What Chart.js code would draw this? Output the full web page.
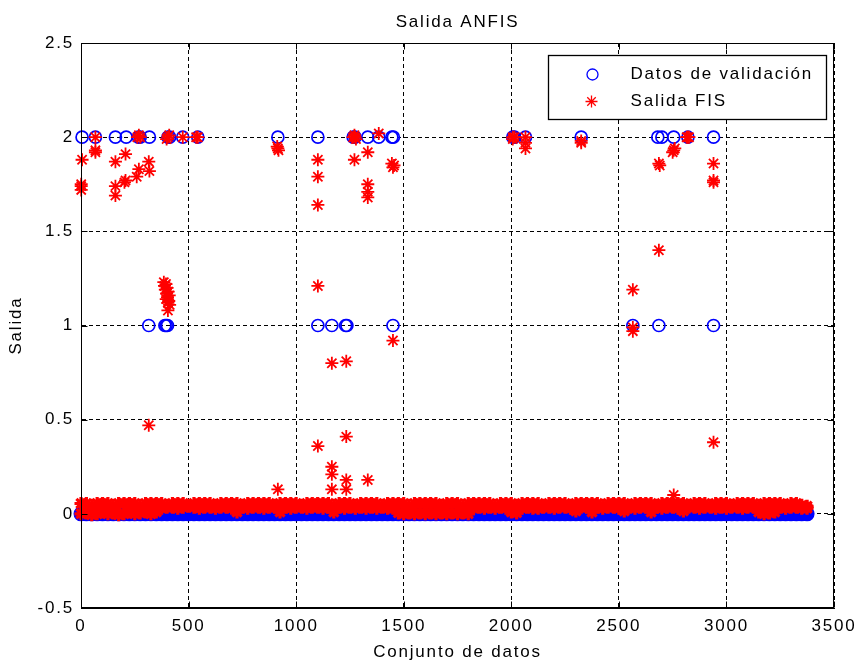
<!DOCTYPE html>
<html>
<head>
<meta charset="utf-8">
<title>Salida ANFIS</title>
<script src="https://cdn.jsdelivr.net/npm/chart.js@4.4.1/dist/chart.umd.min.js"></script>
<style>
  html, body { margin: 0; padding: 0; background: #fff; }
  canvas { display: block; }
</style>
</head>
<body>
<canvas id="chart" width="859" height="663"></canvas>
<script>
// Texts
const titleText = 'Salida ANFIS';
const xTitle = 'Conjunto de datos';
const yTitle = 'Salida';
const legendLabels = ['Datos de validación', 'Salida FIS'];

// Tick values
const xTickValues = [0, 500, 1000, 1500, 2000, 2500, 3000, 3500];
const yTickValues = [-0.5, 0, 0.5, 1, 1.5, 2, 2.5];

// Validation data away from zero (sample index / value)
const valX = [5, 67, 160, 210, 267, 275, 318, 404, 412, 473, 543, 915, 1101, 1265, 1274, 1333, 1384, 1445, 1452,
  2007, 2015, 2066, 2325, 2681, 2700, 2755, 2821, 2940,
  315, 390, 396, 402, 1101, 1166, 1230, 1236, 1450, 2565, 2686, 2940];
const valY = [2, 2, 2, 2, 2, 2, 2, 2, 2, 2, 2, 2, 2, 2, 2, 2, 2, 2, 2,
  2, 2, 2, 2, 2, 2, 2, 2, 2,
  1, 1, 1, 1, 1, 1, 1, 1, 1, 1, 1, 1];

// Dense band of samples whose target is zero
const bandX = [
  0, 25, 50, 75, 100, 125, 150, 175, 200, 225, 250, 275, 300, 325, 350, 375, 400,
  425, 450, 475, 500, 525, 550, 575, 600, 625, 650, 675, 700, 725, 750, 775, 800, 825,
  850, 875, 900, 925, 950, 975, 1000, 1025, 1050, 1075, 1100, 1125, 1150, 1175, 1200, 1225, 1250,
  1275, 1300, 1325, 1350, 1375, 1400, 1425, 1450, 1475, 1500, 1525, 1550, 1575, 1600, 1625, 1650, 1675,
  1700, 1725, 1750, 1775, 1800, 1825, 1850, 1875, 1900, 1925, 1950, 1975, 2000, 2025, 2050, 2075, 2100,
  2125, 2150, 2175, 2200, 2225, 2250, 2275, 2300, 2325, 2350, 2375, 2400, 2425, 2450, 2475, 2500, 2525,
  2550, 2575, 2600, 2625, 2650, 2675, 2700, 2725, 2750, 2775, 2800, 2825, 2850, 2875, 2900, 2925, 2950,
  2975, 3000, 3025, 3050, 3075, 3100, 3125, 3150, 3175, 3200, 3225, 3250, 3275, 3300, 3325, 3350, 3375
];
const valBandLevel = 0;

// FIS output inside the zero band (upper and lower edge of the red strip)
const fisTop = [
  0.055, 0.055, 0.045, 0.055, 0.055, 0.055, 0.045, 0.055, 0.055, 0.055, 0.055, 0.045, 0.055, 0.055, 0.055, 0.055, 0.045,
  0.055, 0.055, 0.055, 0.045, 0.055, 0.055, 0.055, 0.055, 0.045, 0.055, 0.055, 0.055, 0.055, 0.045, 0.055, 0.055, 0.055,
  0.055, 0.055, 0.045, 0.055, 0.055, 0.055, 0.055, 0.045, 0.055, 0.055, 0.055, 0.055, 0.055, 0.045, 0.055, 0.055, 0.055,
  0.045, 0.055, 0.055, 0.055, 0.055, 0.045, 0.055, 0.055, 0.055, 0.055, 0.045, 0.055, 0.055, 0.055, 0.055, 0.055, 0.045,
  0.055, 0.055, 0.055, 0.045, 0.055, 0.055, 0.055, 0.055, 0.055, 0.045, 0.055, 0.055, 0.055, 0.045, 0.055, 0.055, 0.055,
  0.055, 0.045, 0.055, 0.055, 0.055, 0.055, 0.045, 0.055, 0.055, 0.055, 0.055, 0.055, 0.045, 0.055, 0.055, 0.055, 0.055,
  0.045, 0.055, 0.055, 0.055, 0.055, 0.045, 0.055, 0.055, 0.055, 0.055, 0.055, 0.045, 0.055, 0.055, 0.055, 0.045, 0.055,
  0.055, 0.055, 0.045, 0.055, 0.055, 0.055, 0.055, 0.045, 0.055, 0.055, 0.055, 0.055, 0.045, 0.055, 0.055, 0.045, 0.04
];
const fisLow = [
  0.0, 0.005, -0.005, 0.0, 0.01, 0.0, 0.005, -0.005, 0.0, 0.01, 0.0, 0.005, 0.01, 0.0, 0.01, 0.03, 0.035,
  0.035, 0.03, 0.035, 0.04, 0.035, 0.03, 0.035, 0.035, 0.03, 0.035, 0.035, 0.03, 0.01, 0.035, 0.03, 0.035, 0.035,
  0.03, 0.035, 0.035, 0.01, 0.035, 0.03, 0.035, 0.035, 0.03, 0.035, 0.035, 0.03, 0.035, 0.01, 0.035, 0.03, 0.035,
  0.03, 0.035, 0.03, 0.035, 0.03, 0.035, 0.03, 0.03, 0.005, 0.0, 0.005, 0.0, 0.005, 0.0, 0.005, 0.0, 0.005,
  0.0, 0.005, 0.0, 0.005, 0.0, 0.03, 0.035, 0.03, 0.035, 0.03, 0.035, 0.03, 0.01, 0.005, 0.03, 0.035, 0.03,
  0.03, 0.035, 0.035, 0.03, 0.035, 0.035, 0.03, 0.015, 0.035, 0.035, 0.01, 0.035, 0.03, 0.035, 0.035, 0.03, 0.015,
  0.035, 0.03, 0.035, 0.035, 0.01, 0.035, 0.03, 0.035, 0.035, 0.03, 0.015, 0.035, 0.035, 0.03, 0.035, 0.035, 0.03,
  0.035, 0.03, 0.035, 0.035, 0.03, 0.035, 0.035, 0.01, 0.0, 0.005, 0.01, 0.035, 0.03, 0.035, 0.035, 0.03, 0.03
];

// FIS output away from the zero band
const fisX = [
  67, 67, 67, 5, 1, 1, 1, 160, 207, 160, 160, 207, 202, 262, 269, 275, 269, 259, 315, 318,
  398, 404, 410, 473, 535, 543, 912, 915, 918, 915,
  385, 388, 392, 395, 398, 400, 402, 405, 408, 410, 396, 404, 412, 404, 315,
  1101, 1101, 1101, 1101, 1101, 1265, 1271, 1274, 1278, 1271, 1384, 1333, 1333, 1333, 1333, 1333,
  1445, 1450, 1455, 1450, 1166, 1166, 1166, 1166, 1233, 1233, 1233, 1233,
  2007, 2007, 2015, 2066, 2066, 2066, 2325, 2325, 2821, 2815, 2826, 2755, 2750, 2760, 2686, 2690,
  2940, 2940, 2940, 2686, 2565, 2565, 2565, 2940, 2755
];
const fisY = [
  2.0, 1.93, 1.92, 1.88, 1.75, 1.72, 1.74, 1.87, 1.91, 1.74, 1.69, 1.77, 1.76, 2.0, 2.01, 2.0, 1.83, 1.79, 1.87, 1.82,
  1.99, 2.0, 2.01, 2.0, 2.0, 2.0, 1.95, 1.94, 1.93, 0.13,
  1.23, 1.21, 1.19, 1.22, 1.17, 1.20, 1.15, 1.18, 1.13, 1.16, 1.14, 1.12, 1.11, 1.08, 0.47,
  1.88, 1.79, 1.64, 1.21, 0.36, 2.0, 2.01, 2.0, 1.99, 1.88, 2.02, 1.92, 1.75, 1.71, 1.68, 0.18,
  1.86, 1.84, 1.85, 0.92, 0.80, 0.25, 0.21, 0.13, 0.81, 0.41, 0.18, 0.13,
  2.0, 1.99, 2.0, 2.0, 1.97, 1.94, 1.98, 1.97, 2.0, 2.0, 2.0, 1.93, 1.92, 1.94, 1.86, 1.85,
  1.86, 1.77, 1.76, 1.40, 1.19, 0.99, 0.97, 0.38, 0.10
];

const BLUE = '#0000ff';
const RED = '#ff0000';
const FONT = "'Liberation Sans', Arial, Helvetica, sans-serif";
const SPACING = '1.8px';

Chart.defaults.font.family = FONT;
Chart.defaults.font.size = 17;
Chart.defaults.color = '#000';

// MATLAB style frame: closed box, inward ticks, title and boxed legend
const matlabFrame = {
    id: 'matlabFrame',
    afterInit(chart) { chart.ctx.letterSpacing = SPACING; },
    beforeUpdate(chart) { chart.ctx.letterSpacing = SPACING; },
    beforeDraw(chart) { chart.ctx.letterSpacing = SPACING; },
    afterDraw(chart) {
        const { ctx, chartArea: a, scales } = chart;
        const L = Math.round(a.left) + 0.5, R = Math.round(a.right) - 0.5;
        const T = Math.round(a.top) + 0.5, B = Math.round(a.bottom) - 0.5;
        ctx.save();
        ctx.letterSpacing = SPACING;
        ctx.strokeStyle = '#000';
        ctx.lineWidth = 1;
        ctx.setLineDash([]);
        ctx.strokeRect(L, T, R - L, B - T);

        ctx.beginPath();
        xTickValues.forEach(v => {
            const px = Math.round(scales.x.getPixelForValue(v)) + 0.5;
            ctx.moveTo(px, B); ctx.lineTo(px, B - 6);
            ctx.moveTo(px, T); ctx.lineTo(px, T + 6);
        });
        yTickValues.forEach(v => {
            const py = Math.round(scales.y.getPixelForValue(v)) + 0.5;
            ctx.moveTo(L, py); ctx.lineTo(L + 6, py);
            ctx.moveTo(R, py); ctx.lineTo(R - 6, py);
        });
        ctx.stroke();

        // title
        ctx.fillStyle = '#000';
        ctx.font = `17px ${FONT}`;
        ctx.textAlign = 'center';
        ctx.textBaseline = 'middle';
        ctx.fillText(titleText, (a.left + a.right) / 2, 22);

        // legend
        const bx = Math.round(a.right) - 286 + 0.5, by = Math.round(a.top) + 12 + 0.5;
        const bw = 278, bh = 64;
        ctx.fillStyle = '#fff';
        ctx.fillRect(bx, by, bw, bh);
        ctx.strokeStyle = '#000';
        ctx.lineWidth = 1.3;
        ctx.strokeRect(bx, by, bw, bh);

        ctx.strokeStyle = BLUE;
        ctx.fillStyle = 'rgba(0,0,0,0)';
        Chart.helpers.drawPoint(ctx, { pointStyle: 'circle', radius: 5.5, rotation: 0, borderWidth: 1.7 }, bx + 44, by + 19);
        ctx.strokeStyle = RED;
        Chart.helpers.drawPoint(ctx, { pointStyle: 'star', radius: 6, rotation: 0, borderWidth: 1.7 }, bx + 43, by + 46);

        ctx.fillStyle = '#000';
        ctx.textAlign = 'left';
        ctx.fillText(legendLabels[0], bx + 82, by + 19);
        ctx.fillText(legendLabels[1], bx + 82, by + 46);
        ctx.restore();
    }
};

const validationPoints = valX.map((x, i) => ({ x, y: valY[i] }));
const validationBand = bandX.map(x => ({ x, y: valBandLevel }));
const fisBand = bandX.flatMap((x, i) => [{ x, y: fisTop[i] }, { x, y: fisLow[i] }]);
const fisPoints = fisX.map((x, i) => ({ x, y: fisY[i] }));

const gridOpts = { color: '#000', lineWidth: 1, drawTicks: false };
const borderOpts = { color: '#000', width: 1, dash: [4, 3] };

new Chart(document.getElementById('chart'), {
    type: 'scatter',
    data: {
        datasets: [
            {
                label: legendLabels[0], data: validationPoints, order: 4, clip: false,
                pointStyle: 'circle', pointRadius: 6, pointBorderWidth: 1.7,
                pointBorderColor: BLUE, pointBackgroundColor: 'rgba(0,0,0,0)'
            },
            {
                label: legendLabels[0], data: validationBand, order: 3, clip: false,
                pointStyle: 'circle', pointRadius: 6.5, pointBorderWidth: 2,
                pointBorderColor: BLUE, pointBackgroundColor: BLUE
            },
            {
                label: legendLabels[1], data: fisBand, order: 2, clip: false,
                pointStyle: 'star', pointRadius: 6.5, pointBorderWidth: 3.2,
                pointBorderColor: RED, pointBackgroundColor: RED
            },
            {
                label: legendLabels[1], data: fisPoints, order: 1, clip: false,
                pointStyle: 'star', pointRadius: 6.5, pointBorderWidth: 1.8,
                pointBorderColor: RED, pointBackgroundColor: RED
            }
        ]
    },
    options: {
        responsive: false,
        animation: false,
        layout: { padding: { top: 43, right: 25, left: 0, bottom: 0 } },
        plugins: {
            legend: { display: false },
            tooltip: { enabled: false },
            title: { display: false }
        },
        scales: {
            x: {
                type: 'linear', min: 0, max: 3500,
                afterBuildTicks: s => { s.ticks = xTickValues.map(v => ({ value: v })); },
                afterFit: s => { s.height = 55; s.paddingLeft = 0; s.paddingRight = 0; },
                ticks: { padding: 8, maxRotation: 0, callback: v => String(v) },
                grid: gridOpts,
                border: borderOpts,
                title: { display: true, text: xTitle, padding: { top: 0, bottom: 0 } }
            },
            y: {
                type: 'linear', min: -0.5, max: 2.5,
                afterBuildTicks: s => { s.ticks = yTickValues.map(v => ({ value: v })); },
                afterFit: s => { s.width = 81; s.paddingTop = 0; s.paddingBottom = 0; },
                ticks: { padding: 7, callback: v => String(v) },
                grid: gridOpts,
                border: borderOpts,
                title: { display: true, text: yTitle, padding: { top: 6, bottom: 0 } }
            }
        }
    },
    plugins: [matlabFrame]
});
</script>
</body>
</html>
